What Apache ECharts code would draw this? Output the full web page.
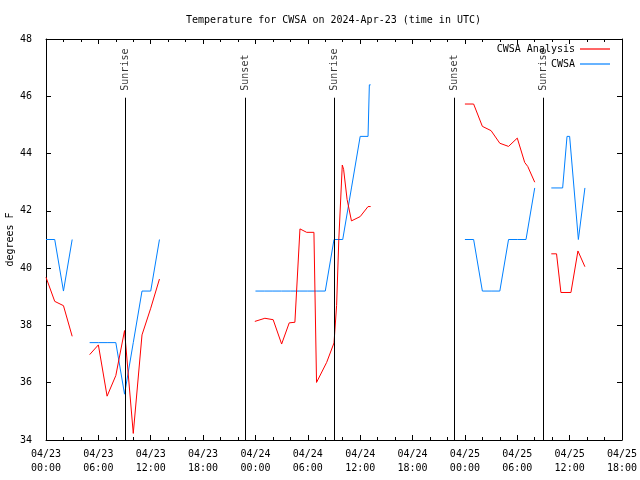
<!DOCTYPE html>
<html>
<head>
<meta charset="utf-8">
<script src="https://cdn.jsdelivr.net/npm/echarts@6/dist/echarts.min.js"></script>
<style>html,body{margin:0;padding:0;background:#fff;}#c{width:640px;height:480px;}</style>
</head>
<body>
<div id="c"></div>
<script>
// Hours since 2024-04-23 00:00 UTC; null marks a gap in the record
var redTimes = [0,1,2,3,null,
  5,6,7,8,9,10,11,12,13,null,
  23.93,25.08,26.03,27.0,27.87,28.52,29.1,29.87,30.7,31.0,32.16,33.0,33.3,33.55,33.95,34.1,34.5,35.0,36.0,36.9,37.2,null,
  48,49,50,51,52,53,54,54.85,55.2,56,null,
  57.9,58.5,59.0,60.15,60.95,61.75];
var redTemps = [39.68,38.84,38.69,37.62,null,
  36.98,37.32,35.53,36.25,37.82,34.23,37.67,38.6,39.62,null,
  38.14,38.25,38.2,37.35,38.09,38.11,41.37,41.25,41.25,36.01,36.71,37.39,38.7,41.0,43.6,43.45,42.4,41.65,41.8,42.15,42.15,null,
  45.73,45.73,44.95,44.8,44.36,44.25,44.54,43.69,43.55,43.0,null,
  40.5,40.5,39.15,39.15,40.6,40.05];
var blueTimes = [0,1,2,3,null,
  5,6,7,8,9,10,11,12,13,null,
  24,25,26,27,28,29,30,31,32,33,34,35,36,36.9,37.05,37.2,null,
  48,49,50,51,52,53,54,55,56,null,
  57.9,59.2,59.7,60,61,61.75];
var blueTemps = [41.0,41.0,39.2,41.0,null,
  37.4,37.4,37.4,37.4,35.6,37.4,39.2,39.2,41.0,null,
  39.2,39.2,39.2,39.2,39.2,39.2,39.2,39.2,39.2,41.0,41.0,42.8,44.6,44.6,46.4,46.4,null,
  41.0,41.0,39.2,39.2,39.2,41.0,41.0,41.0,42.8,null,
  42.8,42.8,44.6,44.6,41.0,42.8];
var sunNames = ['Sunrise','Sunset','Sunrise','Sunset','Sunrise'];
var sunTimes = [9.07,22.8,33.05,46.83,57.0];
var xTickLabels = ['04/23\n00:00','04/23\n06:00','04/23\n12:00','04/23\n18:00',
  '04/24\n00:00','04/24\n06:00','04/24\n12:00','04/24\n18:00',
  '04/25\n00:00','04/25\n06:00','04/25\n12:00','04/25\n18:00'];
var yTicks = [34,36,38,40,42,44,46,48];
var seriesNames = ['CWSA Analysis','CWSA'];

function pairs(ts, vs){
  var out = [];
  for (var i=0;i<ts.length;i++){
    if (ts[i] === null) out.push([ (ts[i-1]+ts[i+1])/2, '-' ]);
    else out.push([ts[i], vs[i]]);
  }
  return out;
}
var FONT = 'DejaVu Sans Mono';
var txt = {fontFamily: FONT, fontSize: 10, color: '#000'};
var lineLevelTop = 45.95, labelBase = 46.16;

var chart = echarts.init(document.getElementById('c'), null, {renderer:'canvas'});
var axisCommon = {
  type:'value', min:0, max:66, interval:6,
  axisLine:{show:true, onZero:false, lineStyle:{color:'#000', width:1}},
  axisTick:{show:true, inside:true, length:5, lineStyle:{color:'#000'}},
  minorTick:{show:true, splitNumber:3, length:3, lineStyle:{color:'#000'}},
  splitLine:{show:false}
};
var yCommon = {
  type:'value', min:yTicks[0], max:yTicks[yTicks.length-1], interval:2,
  axisLine:{show:true, onZero:false, lineStyle:{color:'#000', width:1}},
  axisTick:{show:true, inside:true, length:5, lineStyle:{color:'#000'}},
  splitLine:{show:false}
};
chart.setOption({
  animation:false,
  backgroundColor:'#fff',
  title:{text:'Temperature for CWSA on 2024-Apr-23 (time in UTC)', left:186, top:15, padding:0,
    textStyle:{fontFamily:FONT, fontSize:10, fontWeight:'normal', color:'#000'}},
  legend:{data:seriesNames, orient:'vertical', right:30, top:44, align:'right', padding:0,
    itemWidth:30, itemHeight:1.2, itemGap:5, icon:'rect', textStyle:txt},
  grid:{left:46, right:18, top:39, bottom:40, containLabel:false, outerBoundsMode:'none'},
  xAxis:[
    Object.assign({}, axisCommon, {position:'bottom',
      axisLabel:{show:true, margin:7, lineHeight:14, fontFamily:FONT, fontSize:10, color:'#000',
        formatter:function(v){return xTickLabels[Math.round(v/6)];}}}),
    Object.assign({}, axisCommon, {position:'top', axisLabel:{show:false}})
  ],
  yAxis:[
    Object.assign({}, yCommon, {position:'left', name:'degrees F', nameLocation:'middle', nameGap:31,
      nameMoveOverlap:false, nameTextStyle:txt,
      axisLabel:{show:true, margin:14, fontFamily:FONT, fontSize:10, color:'#000'}}),
    Object.assign({}, yCommon, {position:'right', axisLabel:{show:false}})
  ],
  series:[
    {name:seriesNames[0], type:'line', data:pairs(redTimes, redTemps), showSymbol:false, symbol:'none',
      connectNulls:false, color:'#ff0000', lineStyle:{width:1, color:'#ff0000'}, z:3},
    {name:seriesNames[1], type:'line', data:pairs(blueTimes, blueTemps), showSymbol:false, symbol:'none',
      connectNulls:false, color:'#0080ff', lineStyle:{width:1, color:'#0080ff'}, z:2},
    {name:'sun', type:'scatter', symbolSize:0, silent:true, z:4,
      data:sunTimes.map(function(t,i){return {name:sunNames[i], value:[t, labelBase]};}),
      label:{show:true, position:'inside', rotate:90, align:'left', verticalAlign:'middle', offset:[1,0],
        formatter:function(p){return p.name;}, fontFamily:FONT, fontSize:10, color:'#000'},
      markLine:{silent:true, symbol:'none', label:{show:false},
        lineStyle:{color:'#000', width:1, type:'solid'},
        data:sunTimes.map(function(t){return [{coord:[t,34]},{coord:[t,lineLevelTop]}];})}
    }
  ]
});
</script>
</body>
</html>
